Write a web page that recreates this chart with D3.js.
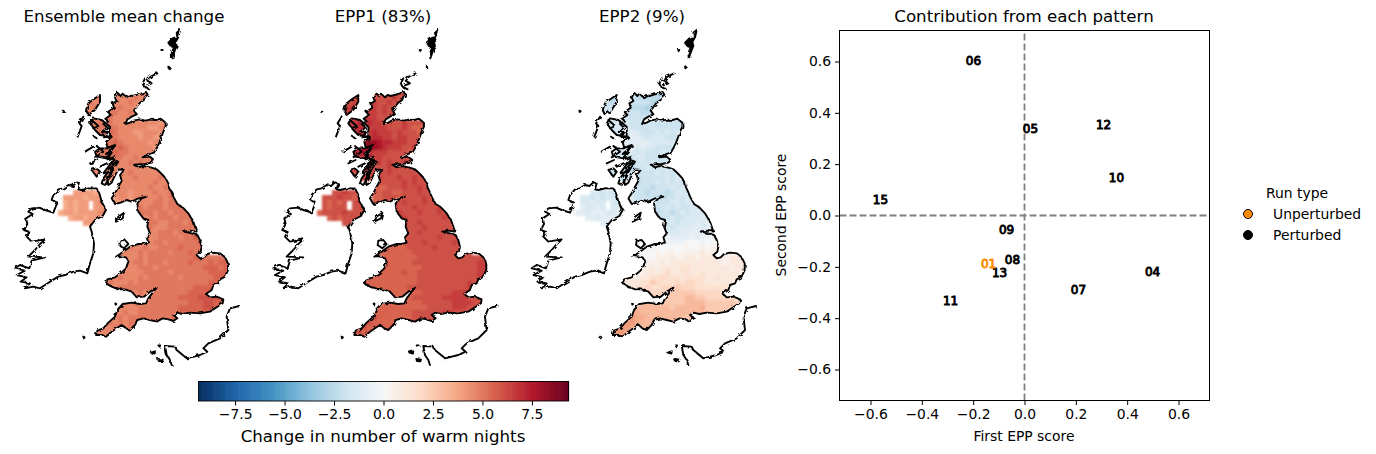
<!DOCTYPE html>
<html><head><meta charset="utf-8">
<script src="https://cdn.jsdelivr.net/npm/d3@7"></script>
<style>body{margin:0;background:#fff}text{font-family:"DejaVu Sans",sans-serif;fill:#000}</style>
</head><body><svg id="c" width="1376" height="454"></svg>
<script>
const panelTitles=["Ensemble mean change","EPP1 (83%)","EPP2 (9%)"];
const cbTicks=[-7.5,-5,-2.5,0,2.5,5,7.5];
const scoreTicks=[-0.6,-0.4,-0.2,0,0.2,0.4,0.6];
const runIds=["06","05","12","10","15","09","08","13","04","07","11","01"];
const firstScore=[-0.199,0.023,0.308,0.358,-0.561,-0.070,-0.047,-0.097,0.499,0.210,-0.288,-0.140];
const secondScore=[0.600,0.335,0.354,0.144,0.062,-0.055,-0.175,-0.226,-0.222,-0.292,-0.335,-0.191];
const runTypes=["Unperturbed","Perturbed"];
const levels="abcdefghijklmnopqrstuvwxyz";
const rdbu=["#053061","#2166ac","#4393c3","#92c5de","#d1e5f0","#f7f7f7","#fddbc7","#f4a582","#d6604d","#b2182b","#67001f"];
const ensMean=[
"...........rrrsrrrr","....rssrsssrrrrsrrr","....rssrsssrrrsrrr","....rsrssssrsrrrr","....rsrsssssrrsrr","....rrsrsssrrrrr",
"....rrsrsssrrrsrrrrrqrq","....rsrsssssrrrrrrqqrrq","....srsrsstsrrrqqrrrqqr","....srssstssrrrrqrrqqqr","....srssststsrrrrrqrrq","....srsssststsrrrrrqr",
"....srssrsstssrrrrrrr","......srsssssrrsrrrr","......srssrsrrsrsrrrr","......srssrrrrrrrrrrr","......srsrrrrrsrrrrrrr","......sssrrrrrrsrrrrsrr",
"...........rrrrrrrrsrrs","...........rrrrrrrsrrsrr","...qqqqpq..rrrqrrrrsrrsr",".qqqqpqqqq.qrrqrrrrrsrsss",".pqpqq.qrq.qqrrrrrrssrsss",".pqpqq.qqr.....ssrsssrsssss",
"pqqpqqqqrr.....rsssrssrsssss","..pqqpqqq.......rrsrsssrssss",".....qq.........rsssrrsssrss","................rssrrrsssssrss","................ssrrsssrssssss","................ssrrssssrsstss",
".............rssrrrssrsssssstss","............rrsrrsrrsssstssssss","............rrrrsrssssrssstsss",".............rrrsrsssssssssttssssss",".............rrssrsssrsssstssststtss","............rrrrsssrssssssssstttstss",
"............rrrrrsssssrsssssssttttt","..........srsrrrsrssssssrssssssttttt",".........ssrrrsrsssssssssssssstttt",".........rrrsssssssssssssssttttuut",".............rrrsrrsssssssttttuuuu","...............rrsssssssttttuuuut",
".............rrrrrsssssssstttuuttss","............rrrrsssssssstttttuuttt","...........rrsrrssssssssttttttts","..........rrsrssssssssstttss",".........rsrsrsssssssrss","........rrrssrsssss",".......rrrrssr","......rrrr.."];
const epp1=[
"...........uuuvuuut","....uvvuvvvuuuuvuuu","....vvuvvvvvuuvuuu","....vuvvvvvvuvuuu","....vvvwvvvvuvuvu","....vvvvvwvvuuuu",
"....vvvvwvwvvuuuuvuuuut","....vvwvwwvvvvuuuvutttu","....vwvwwwvwvvvuvuuuttu","....vwvwwxvwwvvuvvuuuuu","....wwwxxyzyxwwvvvuuuv","....wwwwxyzyxwvvvuuvu",
"....wvwwwxwvvvuuuuttu","......wvwvwvvuuuuuuuu","......vvwvvuvuvuuvuu","......vvuvvuuuvuuuuuu","......vuvuvuuuvuuuuuuu","......uvuvuuvuuuvuuvuvu",
"...........uuuuuuvuvuuv","...........uttuuuvuuvuuu","...uuvuuu..ttuuttuuuvuuvu",".uuuvuutuu.ttuuuuuuuuvuuu",".ututu.uvu.tutuuuvuuuvuuu",".utuuu.uuu.....vuuuvuuuuvuu",
"tuuuuvuuut.....vvuuuvuuuvuuu","..tutuuuu.......vvuuuuuuuvuu",".....uu.........vuuuvuuuuuuv","................vuuuuvuuuuuuvu","................vuuuvuuuuuuuvu","................vuuuuuuuvuuuuuu",
".............tttttuuuvuuuuuvuuvw","............ttttttuuuuuvuuuuuuv","............tttttttuuuuuuuuuuuu",".............tttttttuuuuuuuuuuuuuuv",".............ttttttuuuuuuuuuuuuuvvuv","............tttttttttuuuuuuuuuuuvvuvv",
"............tttttuttuuuuuuuuuuuuvvvv","..........utttttttttuuuuuuuuuuuuvvvv",".........uttttttttttuuuuuuuuuuvuvv",".........tttttttttuuuuuuuuuuuuvuvu",".............ttttttttuuuuuuvvvvuu","...............ttttuuuuuuvvvvvuuu",
".............ttttttttuuuuuuvvvvuuu","............ttttttttttuuuuuvvvuuut","...........ttttttttuuuuuuvvuuut","..........tutttttttuuuuuuuuu",".........tutttttttuuuuu","........tuttttttut",".......tutttu","......tuuu.."];
const epp2=[
"...........dddedcdcd","....feedefeeddddddd","....feedeeeeeeedcd","....feeeeeedddcdd","....feeeeeeeeddde","....feefeeeeeee",
"....fefefefeeefeeeeeefe","....fefefefeeeefeeeeeee","....fefefefgfeeefefeffe","....fefefgfggfefffeeffe","....fefggggggggffffffe","....gfffggggfgffeeeee",
"....feeffeffefeeeffef","......feefeeffeeeefff","......eeeeefefefeeefff","......eeeeedeefeefefe","......eedeeeeeeefefeeg","......ededeedeeeeefeffe",
"...........edeeefefefefe","...........eeeedeeefefee","...ffefef..eeedeeedeffef",".ffefefffg.feeeedeeefefff",".ffgff.fef.feefeeeeffefff",".gffgf.ffg.....deefefeefffg",
"ggfgggffg......edeedefefffgffg","..ggfgggg.......deefeefffgfgg",".....gg.........eeefefffgfgggg","................eefefffggfgghh","................fefffggggghhhi","................fghgggghghhhhhij",
".............hhhhhhhhhiiihiijiijk","............hhhhiiiiiijiijijjjjj","............hiiijijjijjjjkjjkjj",".............iiijjjkjjkkjkkkkjjkkkk",".............ijjjkjkkkkkkkkkkjjkkkj","............ijjkjkkkkllkkkkkkkkjkkkk",
"............jjkkkkmkkllkklkkkkkkkjkk","..........kkjkkllmlllkllllkklkkkkkk",".........kkkkllnmlllmlmmllkkkkkkk",".........lkkllmllmmmnmmmlllllllkk",".............mmmmmnnnnnnmmmmmllmm","...............nnnnnnnoonnmmmmmm",
".............oooonnnnnoooonnnnnnm","............ooooooonooooopnnnnnnn","...........ppooooooooooooonnn","..........qqppoooooooonoon",".........qqqpooooonnn","........qqqppoo",".......qqqpo","......qqqp.."];
const fields=[ensMean,epp1,epp2];
const coastGB=[[352,218],[362,228],[368,221],[380,232],[388,225],[398,228],[412,224],[425,220],[438,216],[443,224],[434,232],[432,240],[420,248],[412,258],[402,272],[410,283],[395,290],[382,298],[376,312],[390,308],[400,302],[420,298],[436,302],[450,299],[468,300],[482,296],[497,308],[497,320],[490,335],[484,352],[478,368],[470,385],[462,398],[445,403],[428,412],[450,410],[462,420],[455,428],[435,432],[402,434],[415,442],[428,438],[440,440],[455,443],[470,448],[478,455],[488,465],[497,475],[505,490],[508,502],[514,515],[520,530],[532,552],[548,562],[565,580],[572,592],[578,600],[585,620],[590,635],[570,632],[552,635],[575,640],[592,645],[600,660],[605,680],[602,695],[590,705],[600,715],[612,712],[622,702],[640,698],[660,700],[675,712],[684,730],[684,750],[675,770],[660,778],[655,790],[640,795],[635,810],[618,822],[630,832],[650,830],[670,838],[668,850],[650,862],[630,875],[600,880],[570,878],[548,882],[530,878],[520,885],[532,895],[520,903],[505,898],[488,895],[470,905],[450,900],[430,895],[412,900],[405,915],[390,930],[378,925],[365,915],[350,925],[335,935],[318,950],[305,945],[288,945],[292,932],[310,925],[325,908],[345,890],[352,870],[368,852],[395,848],[420,852],[438,850],[445,835],[458,818],[470,803],[450,815],[432,830],[410,832],[395,815],[375,808],[355,808],[335,800],[318,790],[322,778],[345,772],[362,760],[378,745],[385,725],[378,712],[355,708],[348,710],[370,695],[390,680],[415,672],[430,672],[445,668],[440,652],[450,640],[442,620],[445,600],[430,595],[415,575],[412,550],[425,535],[440,530],[415,535],[395,545],[380,540],[362,548],[345,552],[335,535],[345,520],[355,500],[365,482],[360,465],[372,450],[355,448],[342,472],[335,488],[325,495],[322,480],[333,455],[328,445],[348,428],[328,432],[345,410],[322,418],[335,398],[318,402],[345,378],[322,382],[318,365],[335,350],[312,352],[325,335],[306,336],[322,322],[310,312],[325,304],[316,296],[332,285],[324,276],[342,263],[338,250],[350,243],[345,233]];
const coastIreland=[[230,487],[218,498],[205,495],[190,505],[175,508],[160,525],[155,540],[172,548],[165,565],[160,578],[135,570],[118,563],[95,565],[85,575],[98,582],[78,595],[82,612],[72,630],[88,636],[80,650],[95,665],[135,658],[120,672],[105,690],[85,710],[135,712],[95,722],[88,745],[60,735],[45,745],[75,752],[50,765],[80,772],[62,785],[90,790],[75,805],[100,800],[120,805],[150,785],[175,770],[195,765],[220,755],[240,752],[262,760],[270,730],[280,700],[282,670],[275,635],[270,620],[285,600],[308,588],[318,570],[305,545],[298,520],[290,505],[265,505],[245,510],[235,508],[240,490]];
const islandsFilled=[
[[300,225],[285,235],[265,250],[258,270],[265,285],[285,270],[300,245]],
[[280,295],[270,310],[285,330],[300,345],[330,350],[330,320],[305,300]],
[[285,395],[290,410],[320,415],[345,375],[320,385],[300,385]],
[[275,450],[290,470],[300,455],[290,445]],
[[310,460],[340,420],[355,425],[335,455]],
[[305,490],[315,495],[330,470],[340,445],[325,455],[310,475]]];
const islandsOpen=[
[[348,605],[355,590],[372,578],[368,595],[348,605]],
[[360,662],[375,660],[385,672],[372,685],[358,675],[360,662]],
[[250,290],[238,310],[245,318],[240,332],[233,350]],
[[255,395],[280,380]],[[283,350],[290,355]],[[270,430],[292,420]],[[275,300],[295,318],[280,325]],[[290,378],[310,395],[285,412]],[[300,440],[320,430]],
[[472,160],[452,170],[445,178]],[[435,175],[428,190],[432,200],[448,208]],[[442,182],[455,190],[440,196]],
[[718,858],[690,865],[680,890],[685,930],[660,955],[625,970],[610,985],[622,995],[600,1005],[560,1015],[530,990],[525,980],[495,978],[500,1005],[510,1020],[515,1035]]];
const blackIslands=[
[[540,30],[530,38],[532,50],[518,55],[505,68],[512,78],[522,82],[515,100],[516,115],[523,95],[530,78],[527,65],[535,52]],
[[505,140],[509,142],[506,145]],[[188,272],[192,274],[189,276]],[[250,950],[254,952],[251,955]],[[346,850],[349,852],[347,854]],
[[474,1017],[488,1019],[486,1024],[476,1023]],[[453,998],[465,994],[464,1001]],[[475,976],[481,976],[479,980]],[[484,90],[488,90],[486,93]]];
const panelOffsets=[0,258.3,516.7];

const svg=d3.select("#c");
const color=d3.scaleLinear().domain(d3.range(11).map(i=>-9.35+i*1.87)).range(rdbu).clamp(true);
const minus=s=>String(s).replace("-","\u2212");
const gridX0=175,gridY0=210,gridStep=15;
const allRings=[coastGB,coastIreland,...islandsFilled];
const defs=svg.append("defs");
defs.append("filter").attr("id","soft").attr("x","-5%").attr("y","-5%").attr("width","110%").attr("height","110%")
  .append("feGaussianBlur").attr("stdDeviation",0.8);
const rough=defs.append("filter").attr("id","rough").attr("x","-5%").attr("y","-5%").attr("width","110%").attr("height","110%");
rough.append("feTurbulence").attr("type","fractalNoise").attr("baseFrequency",0.22).attr("numOctaves",2).attr("seed",4).attr("result","n");
rough.append("feDisplacementMap").attr("in","SourceGraphic").attr("in2","n").attr("scale",3.5).attr("result","d");
rough.append("feGaussianBlur").attr("in","d").attr("stdDeviation",0.3);

fields.forEach((rows,k)=>{
  const x=d3.scaleLinear().domain([0,780]).range([panelOffsets[k],panelOffsets[k]+260]);
  const y=d3.scaleLinear().domain([0,1050]).range([20,370]);
  const line=d3.line().x(d=>x(d[0])).y(d=>y(d[1]));
  defs.append("clipPath").attr("id","land"+k).append("path")
    .attr("d",allRings.map(r=>line(r)+"Z").join(""));
  const g=svg.append("g");
  const cells=[];
  rows.forEach((row,r)=>[...row].forEach((ch,c)=>{const i=levels.indexOf(ch);if(i>=0)cells.push({r,c,v:(i-8)*0.5});}));
  g.append("g").attr("clip-path",`url(#land${k})`).append("g").attr("filter","url(#soft)").selectAll("rect").data(cells).join("rect")
    .attr("shape-rendering","crispEdges")
    .attr("x",d=>x(gridX0+d.c*gridStep)).attr("y",d=>y(gridY0+d.r*gridStep))
    .attr("width",x(gridStep)-x(0)+0.6).attr("height",y(gridStep)-y(0)+0.6)
    .attr("fill",d=>color(d.v));
  const outl=g.append("g").attr("fill","none").attr("stroke","#000").attr("stroke-width",1.9).attr("stroke-linejoin","round").attr("stroke-linecap","round").attr("filter","url(#rough)");
  allRings.forEach(r=>outl.append("path").attr("d",line(r)+"Z"));
  islandsOpen.forEach(r=>outl.append("path").attr("d",line(r)));
  blackIslands.forEach(r=>outl.append("path").attr("d",line(r)+"Z").attr("fill","#000"));
  svg.append("text").attr("x",[124,383,642][k]).attr("y",22).attr("text-anchor","middle").attr("font-size",16.67).text(panelTitles[k]);
});

// colourbar
const cbX=d3.scaleLinear().domain([-9.35,9.35]).range([198.5,568.5]);
const cb=svg.append("g");
const cbVals=d3.range(-9.35,9.35,0.0935);
cb.selectAll("rect").data(cbVals).join("rect")
  .attr("x",d=>cbX(d)).attr("y",381).attr("width",cbX(0.1)-cbX(0)+0.5).attr("height",20).attr("fill",d=>color(d));
cb.append("rect").attr("x",198.5).attr("y",381.5).attr("width",370).attr("height",19.5).attr("fill","none").attr("stroke","#000").attr("stroke-width",0.9);
const cbAxis=svg.append("g").attr("transform","translate(0,401)")
  .call(d3.axisBottom(cbX).tickValues(cbTicks).tickSize(4.5).tickPadding(4).tickFormat(d=>minus(d.toFixed(1))));
cbAxis.select(".domain").remove();
cbAxis.selectAll("text").attr("font-size",13.9).style("font-family",'"DejaVu Sans"');
svg.append("text").attr("x",383).attr("y",442).attr("text-anchor","middle").attr("font-size",16.67).text("Change in number of warm nights");

// scatter
const sx=d3.scaleLinear().domain([-0.7207,0.7207]).range([839.5,1209.5]);
const sy=d3.scaleLinear().domain([-0.7207,0.7207]).range([400.5,30.5]);
const fmt=d=>minus(d.toFixed(1));
const ax=svg.append("g").attr("transform","translate(0,400.5)").call(d3.axisBottom(sx).tickValues(scoreTicks).tickSize(4.5).tickPadding(4).tickFormat(fmt));
const ay=svg.append("g").attr("transform","translate(839.5,0)").call(d3.axisLeft(sy).tickValues(scoreTicks).tickSize(4.5).tickPadding(4).tickFormat(fmt));
[ax,ay].forEach(a=>{a.select(".domain").remove();a.selectAll("text").attr("font-size",13.9).style("font-family",'"DejaVu Sans"');});
const grey="#808080";
svg.append("line").attr("x1",sx.range()[0]).attr("x2",sx.range()[1]).attr("y1",sy(0)).attr("y2",sy(0)).attr("stroke",grey).attr("stroke-width",1.8).attr("stroke-dasharray","7,3");
svg.append("line").attr("y1",sy.range()[0]).attr("y2",sy.range()[1]).attr("x1",sx(0)).attr("x2",sx(0)).attr("stroke",grey).attr("stroke-width",1.8).attr("stroke-dasharray","7,3");
svg.append("rect").attr("x",839.5).attr("y",30.5).attr("width",370).attr("height",370).attr("fill","none").attr("stroke","#000").attr("stroke-width",1);
runIds.forEach((id,i)=>{
  const col=id==="01"?"#ff8c00":"#000";
  svg.append("text").attr("x",sx(firstScore[i])).attr("y",sy(secondScore[i])-0.5).attr("dy","0.37em")
    .attr("text-anchor","middle").attr("font-size",12).attr("stroke",col).attr("stroke-width",0.9).style("fill",col).text(id);
});
svg.append("text").attr("x",1024).attr("y",441).attr("text-anchor","middle").attr("font-size",13.9).text("First EPP score");
svg.append("text").attr("transform","translate(786,215) rotate(-90)").attr("text-anchor","middle").attr("font-size",13.9).text("Second EPP score");
svg.append("text").attr("x",1024).attr("y",22).attr("text-anchor","middle").attr("font-size",16.67).text("Contribution from each pattern");
// legend
svg.append("text").attr("x",1297).attr("y",198).attr("text-anchor","middle").attr("font-size",13.9).text("Run type");
runTypes.forEach((t,i)=>{
  const yy=214+i*21;
  svg.append("circle").attr("cx",1248).attr("cy",yy).attr("r",4.5).attr("fill",i?"#000":"#ff8c00").attr("stroke","#000").attr("stroke-width",1);
  svg.append("text").attr("x",1273).attr("y",yy+4.5).attr("font-size",13.9).text(t);
});
</script></body></html>
